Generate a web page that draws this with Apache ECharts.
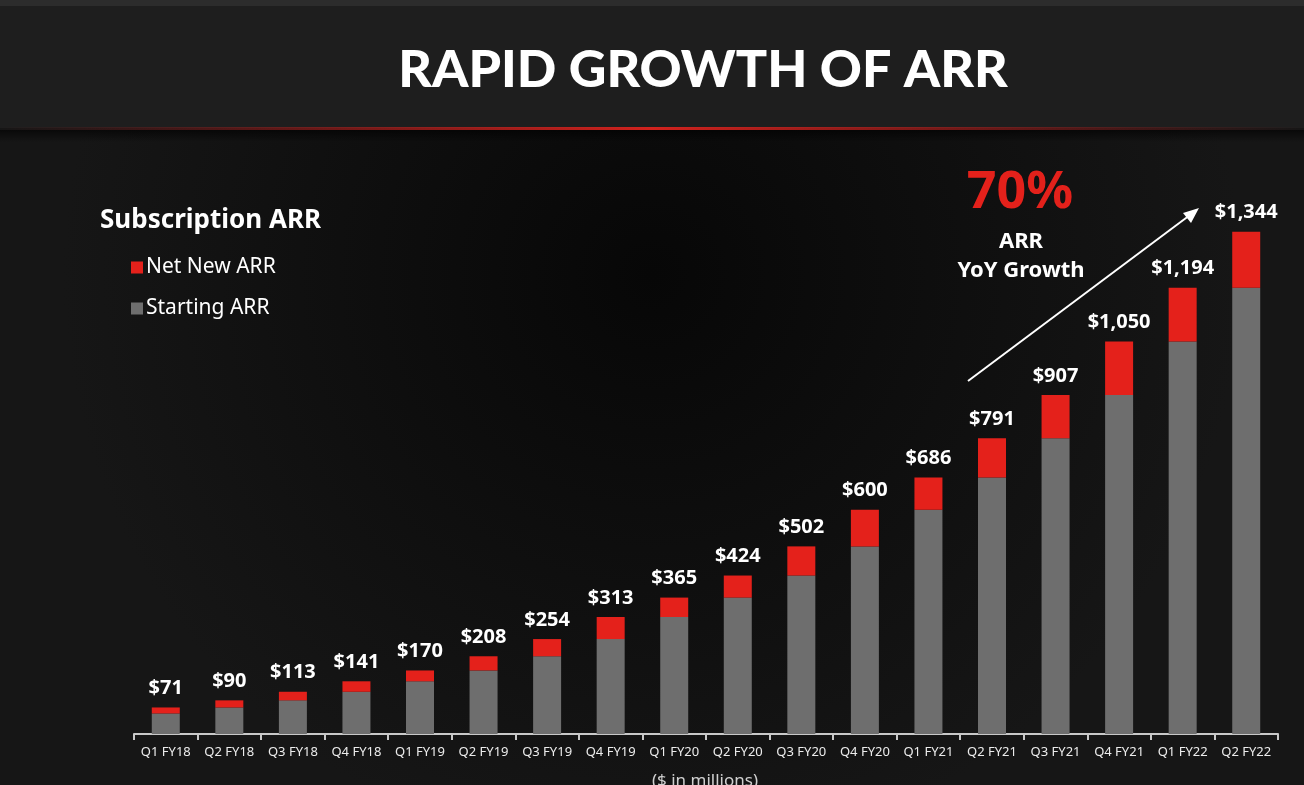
<!DOCTYPE html>
<html><head><meta charset="utf-8">
<script src="https://cdn.jsdelivr.net/npm/echarts@6/dist/echarts.min.js"></script>
<style>html,body{margin:0;padding:0;background:#0e0e0e;}#c{width:1304px;height:785px;}</style>
</head><body><div id="c"></div>
<script>
const categories = ['Q1 FY18','Q2 FY18','Q3 FY18','Q4 FY18','Q1 FY19','Q2 FY19','Q3 FY19','Q4 FY19','Q1 FY20','Q2 FY20','Q3 FY20','Q4 FY20','Q1 FY21','Q2 FY21','Q3 FY21','Q4 FY21','Q1 FY22','Q2 FY22'];
const totalARR = [71,90,113,141,170,208,254,313,365,424,502,600,686,791,907,1050,1194,1344];
const startingARR = [55,71,90,113,141,170,208,254,313,365,424,502,600,686,791,907,1050,1194];
const netNewARR = [16,19,23,28,29,38,46,59,52,59,78,98,86,105,116,143,144,150];

const chart = echarts.init(document.getElementById('c'));
const FONT = 'Noto Sans';
chart.setOption({
  backgroundColor: 'transparent',
  animation: false,
  graphic: [
    {type:'rect', z:-10, silent:true, shape:{x:0,y:0,width:1304,height:785},
     style:{fill:{type:'radial',x:0.5,y:0.35,r:0.75,colorStops:[{offset:0,color:'#070707'},{offset:1,color:'#161616'}]}}},
    {type:'rect', z:-9, silent:true, shape:{x:0,y:0,width:1304,height:128}, style:{fill:'#1e1e1e'}},
    {type:'rect', z:-9, silent:true, shape:{x:0,y:0,width:1304,height:6}, style:{fill:'#2c2c2c'}},
    {type:'rect', z:-8, silent:true, shape:{x:0,y:127,width:1304,height:3},
     style:{fill:{type:'linear',x:0,y:0,x2:1,y2:0,colorStops:[{offset:0,color:'rgba(200,30,30,0)'},{offset:0.5,color:'rgba(220,35,30,0.95)'},{offset:1,color:'rgba(200,30,30,0)'}]}}},
    {type:'rect', z:-8, silent:true, shape:{x:0,y:130,width:1304,height:12},
     style:{fill:{type:'linear',x:0,y:0,x2:0,y2:1,colorStops:[{offset:0,color:'rgba(0,0,0,0.6)'},{offset:1,color:'rgba(0,0,0,0)'}]}}},
    {type:'text', x:703, y:70, style:{x:0, y:0, text:'RAPID GROWTH OF ARR', fill:'#ffffff', font:'900 52px Lato', align:'center', verticalAlign:'middle'}},
    {type:'text', style:{x:100, y:221, text:'Subscription ARR', fill:'#ffffff', font:'bold 26px "Noto Sans"', align:'left', verticalAlign:'middle'}},
    {type:'text', style:{x:1020, y:193, text:'70%', fill:'#e4211b', font:'bold 52px "Noto Sans"', align:'center', verticalAlign:'middle'}},
    {type:'text', style:{x:1021, y:242, text:'ARR', fill:'#ffffff', font:'bold 22px "Noto Sans"', align:'center', verticalAlign:'middle'}},
    {type:'text', style:{x:1021, y:271, text:'YoY Growth', fill:'#ffffff', font:'bold 22px "Noto Sans"', align:'center', verticalAlign:'middle'}},
    {type:'line', shape:{x1:968,y1:381,x2:1190,y2:215}, style:{stroke:'#ffffff', lineWidth:2}},
    {type:'polygon', shape:{points:[[1199,208],[1183,213],[1191,223]]}, style:{fill:'#ffffff'}},
    {type:'text', style:{x:705, y:781, text:'($ in millions)', fill:'#d0d0d0', font:'17px "Noto Sans"', align:'center', verticalAlign:'middle'}}
  ],
  legend: {
    orient:'vertical', left:126, top:252, itemWidth:12, itemHeight:12, itemGap:20,
    icon:'rect', data:['Net New ARR','Starting ARR'],
    textStyle:{color:'#ffffff', fontSize:21, fontFamily:FONT, padding:[0,0,0,-2]}
  },
  grid: {left:134, right:26, top:136, bottom:51, containLabel:false},
  xAxis: {
    type:'category', data:categories,
    axisLine:{lineStyle:{color:'#c8c8c8', width:2}},
    axisTick:{show:true, length:6, lineStyle:{color:'#c8c8c8', width:2}},
    axisLabel:{color:'#ececec', fontSize:13, fontFamily:FONT, margin:12, interval:0}
  },
  yAxis: {type:'value', min:0, max:1600, show:false, splitLine:{show:false}},
  series: [
    {name:'Starting ARR', type:'bar', stack:'arr', data:startingARR, barWidth:28, itemStyle:{color:'#6e6e6e'}},
    {name:'Net New ARR', type:'bar', stack:'arr', data:netNewARR, barWidth:28, itemStyle:{color:'#e4211b'},
     label:{show:true, position:'top', distance:9, color:'#ffffff', fontSize:20, fontWeight:'bold', fontFamily:FONT,
       formatter:p => '$' + totalARR[p.dataIndex].toLocaleString('en-US')}}
  ]
});
</script></body></html>
